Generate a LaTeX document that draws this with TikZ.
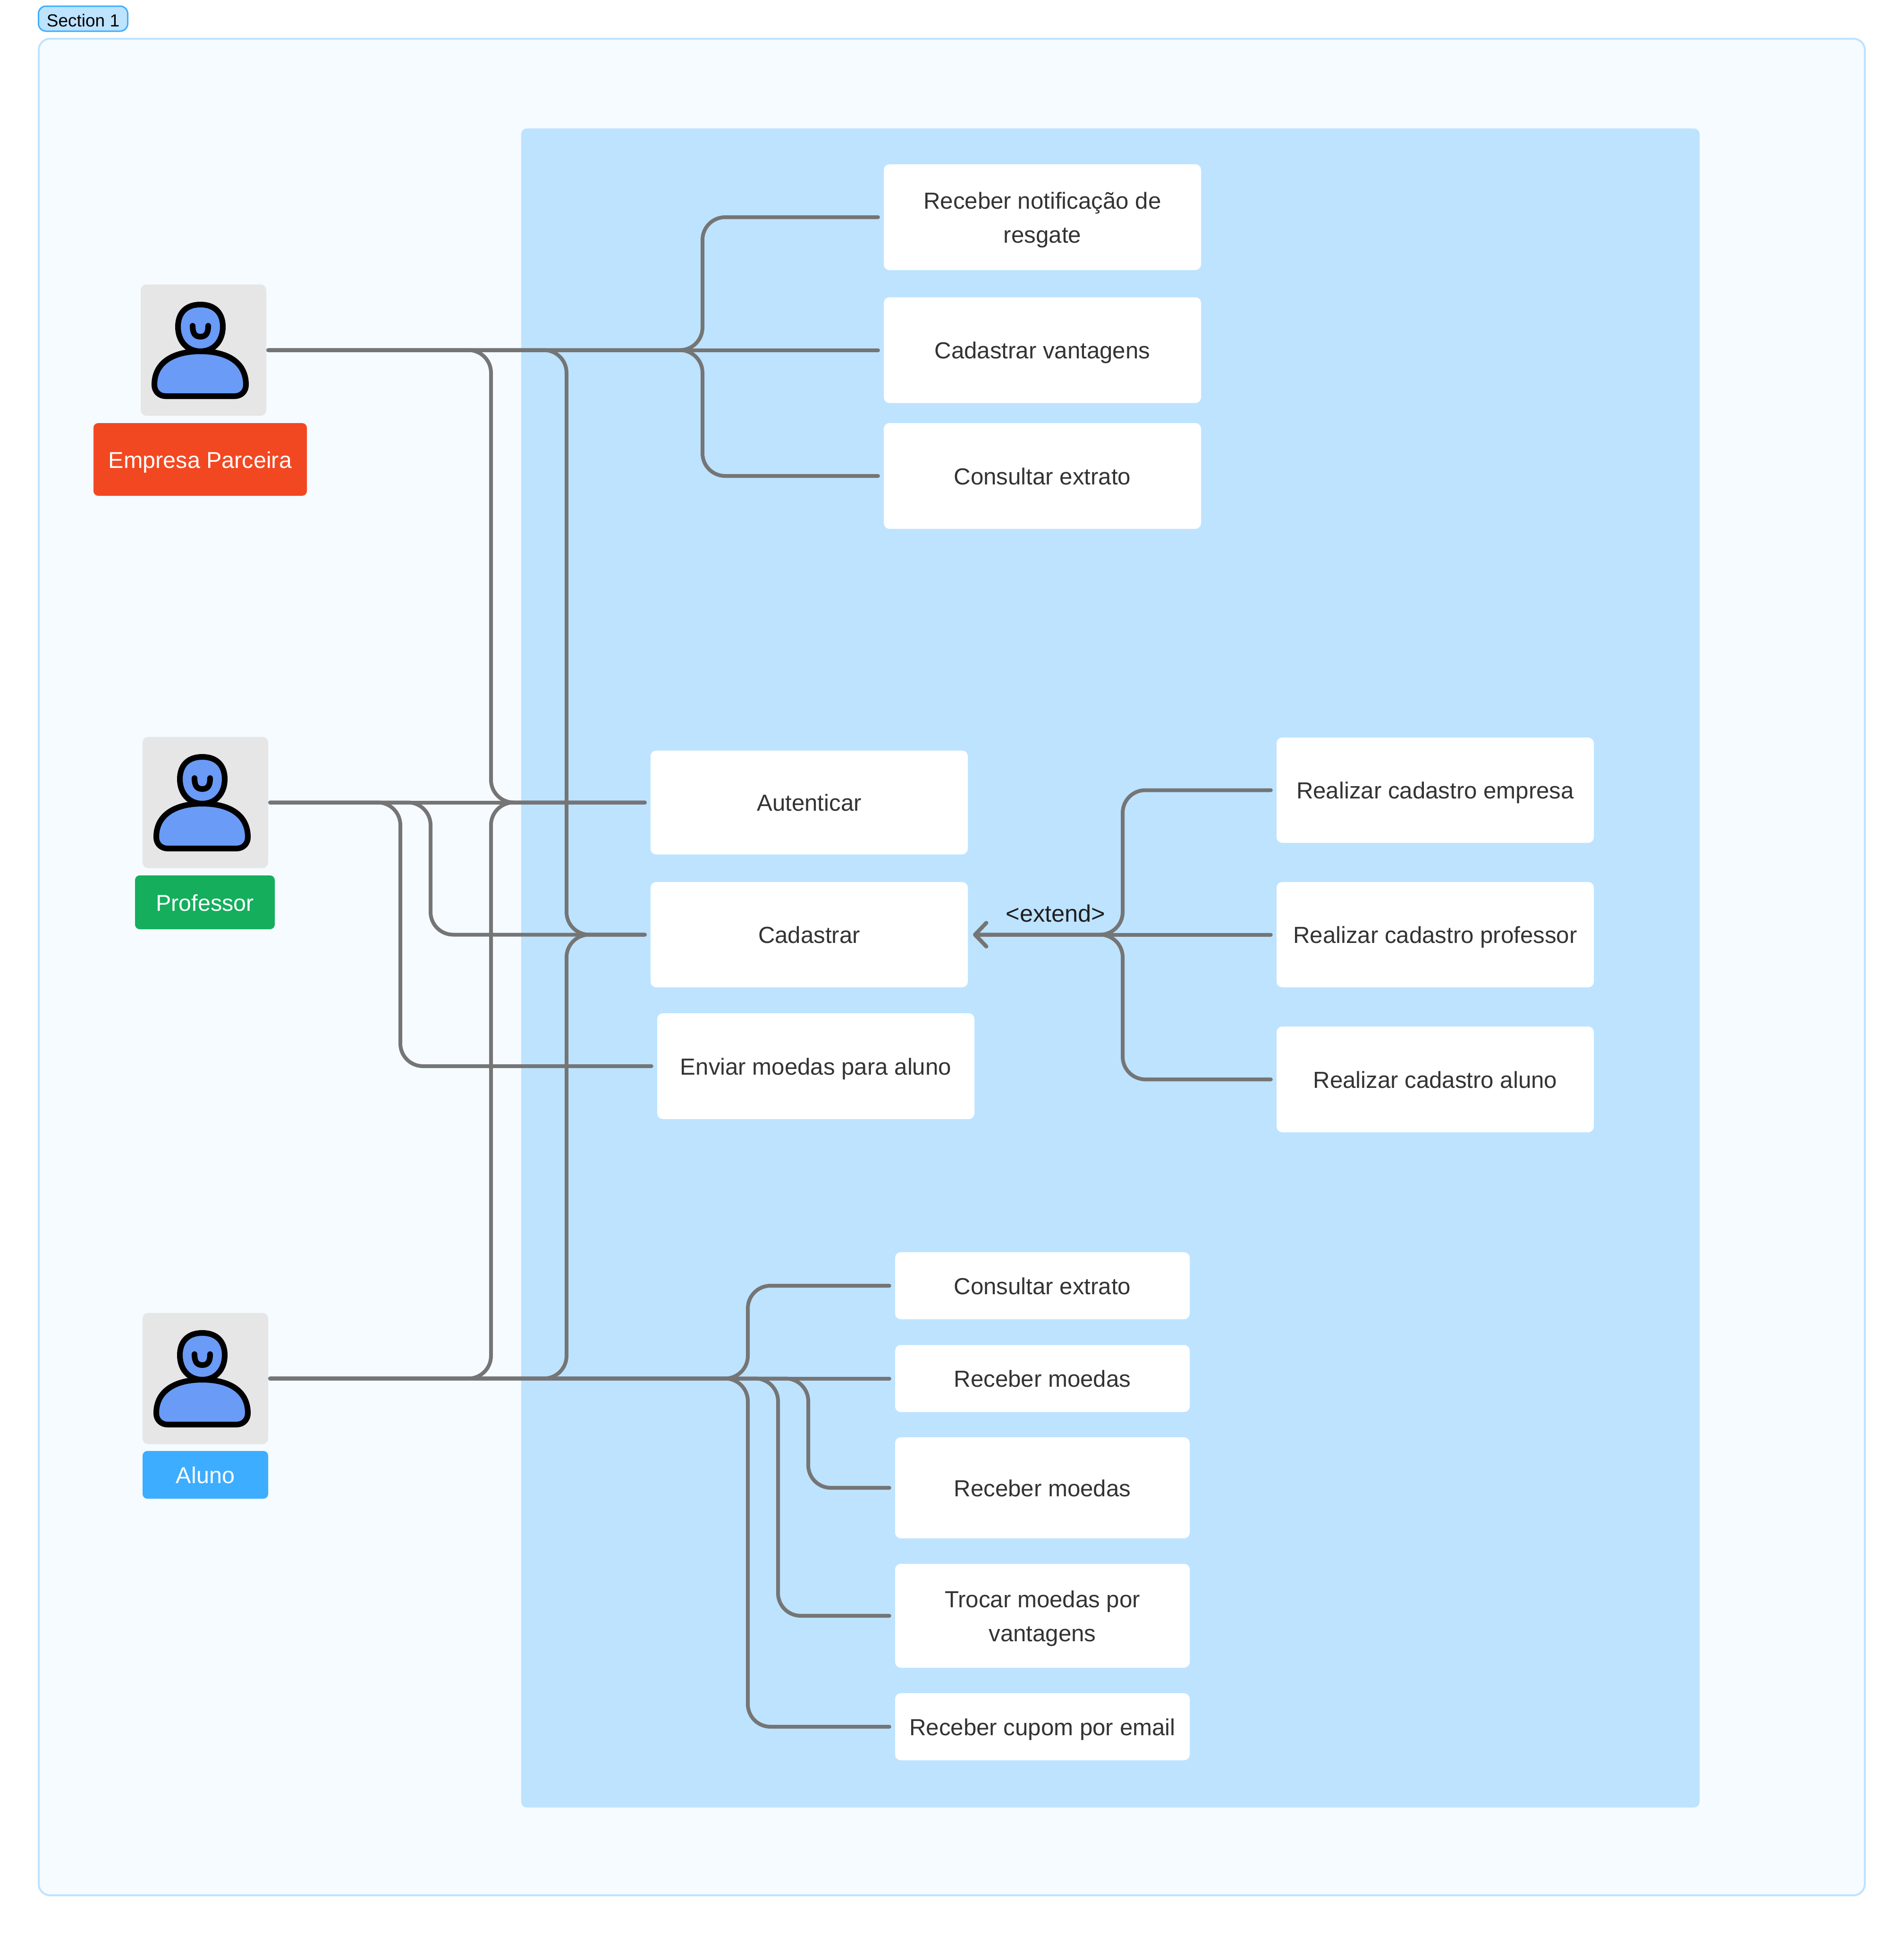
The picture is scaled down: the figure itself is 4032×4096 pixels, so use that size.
\documentclass[tikz,border=0pt]{standalone}
\usepackage{fontspec}
\setmainfont{Liberation Sans}
\usetikzlibrary{arrows.meta}
\definecolor{framefill}{HTML}{F5FBFF}
\definecolor{frameline}{HTML}{BDE3FF}
\definecolor{tagline}{HTML}{3DADFF}
\definecolor{connline}{HTML}{757575}
\definecolor{usetext}{HTML}{333333}
\definecolor{actorbg}{HTML}{E6E6E6}
\definecolor{personblue}{HTML}{699BF7}
\definecolor{empresared}{HTML}{F24822}
\definecolor{profgreen}{HTML}{14AE5C}
\tikzset{
  usecase/.style={rectangle,rounded corners=12pt,fill=white,inner sep=0pt,align=center,text=usetext,
    font=\fontsize{49.2}{72}\selectfont},
  oneline/.style={text height=36pt,text depth=0pt},
  actorbox/.style={rectangle,rounded corners=12pt,fill=actorbg,inner sep=0pt,minimum width=266pt,minimum height=278pt},
  actorlabel/.style={rectangle,rounded corners=10pt,inner sep=0pt,text=white,font=\fontsize{48.5}{72}\selectfont,oneline},
  conn/.style={draw=connline,line width=8pt,line cap=round,line join=round,rounded corners=48pt},
  connarrow/.style={conn,-{Straight Barb[length=24pt,width=50pt,round]}},
  person/.pic={
    \draw[fill=personblue,draw=black,line width=12pt,line join=round]
      (126.5,43) .. controls (158,43) and (174,62) .. (174,90)
      .. controls (174,120) and (155,142) .. (126.5,142)
      .. controls (98,142) and (79,120) .. (79,90)
      .. controls (79,62) and (95,43) .. (126.5,43) -- cycle;
    \draw[fill=personblue,draw=black,line width=12pt,line join=round]
      (126.5,142) .. controls (70,142) and (29,165) .. (29,213)
      .. controls (29,227) and (39,237) .. (53,237)
      -- (199,237)
      .. controls (213,237) and (223,227) .. (223,213)
      .. controls (223,165) and (183,142) .. (126.5,142) -- cycle;
    \draw[draw=black,line width=12pt,line cap=round]
      (110,88) .. controls (110,104) and (115,111) .. (126.5,111)
      .. controls (138,111) and (143,104) .. (143,88);
  }
}
\begin{document}
\begin{tikzpicture}[x=1pt,y=-1pt]
\useasboundingbox (0,0) rectangle (4032,4096);
\fill[white] (0,0) rectangle (4032,4096);
% section frame
\draw[fill=framefill,draw=frameline,line width=4pt,rounded corners=24pt] (82,82) rectangle (3950,4014);
\node[rectangle,rounded corners=16pt,fill=frameline,draw=tagline,line width=3pt,inner sep=0pt,
  minimum width=189pt,minimum height=53pt,font=\fontsize{37}{44}\selectfont,text=black,
  text height=33pt,text depth=0pt] (tag) at (176,39.5) {Section 1};
% system boundary
\fill[frameline,rounded corners=12pt] (1104,272) rectangle (3600,3828);
% actors
\node[actorbox] (emp) at (431,741.5) {};
\node[actorbox] (prof) at (435,1699.5) {};
\node[actorbox] (alu) at (435,2919.5) {};
\pic at (298,602) {person};
\pic at (302,1560) {person};
\pic at (302,2780) {person};
\node[actorlabel,fill=empresared,minimum width=452pt,minimum height=154pt] (emplabel) at (424,973) {Empresa Parceira};
\node[actorlabel,fill=profgreen,minimum width=296pt,minimum height=114pt] (proflabel) at (434,1911) {Professor};
\node[actorlabel,fill=tagline,minimum width=266pt,minimum height=101pt] (alulabel) at (435,3123.5) {Aluno};
% use cases: partner
\node[usecase,minimum width=672pt,minimum height=224pt] (notif) at (2208,460) {\rule{0pt}{48pt}Receber notificação de\\resgate};
\node[usecase,oneline,minimum width=672pt,minimum height=224pt] (vant) at (2208,741.5) {Cadastrar vantagens};
\node[usecase,oneline,minimum width=672pt,minimum height=224pt] (extr) at (2208,1008) {Consultar extrato};
% use cases: shared
\node[usecase,oneline,minimum width=672pt,minimum height=220pt] (aut) at (1714,1699.5) {Autenticar};
\node[usecase,oneline,minimum width=672pt,minimum height=223pt] (cad) at (1714,1979.5) {Cadastrar};
\node[usecase,oneline,minimum width=672pt,minimum height=224pt] (env) at (1728,2258) {Enviar moedas para aluno};
% use cases: registration
\node[usecase,oneline,minimum width=672pt,minimum height=223pt] (remp) at (3040,1673.5) {Realizar cadastro empresa};
\node[usecase,oneline,minimum width=672pt,minimum height=223pt] (rprof) at (3040,1979.5) {Realizar cadastro professor};
\node[usecase,oneline,minimum width=672pt,minimum height=224pt] (ralu) at (3040,2286) {Realizar cadastro aluno};
% use cases: student
\node[usecase,oneline,minimum width=624pt,minimum height=142pt] (cons) at (2208,2723) {Consultar extrato};
\node[usecase,oneline,minimum width=624pt,minimum height=142pt] (rec) at (2208,2919.5) {Receber moedas};
\node[usecase,oneline,minimum width=624pt,minimum height=214pt] (rec2) at (2208,3151) {Receber moedas};
\node[usecase,minimum width=624pt,minimum height=220pt] (troc) at (2208,3422) {\rule{0pt}{48pt}Trocar moedas por\\vantagens};
\node[usecase,oneline,minimum width=624pt,minimum height=142pt] (cup) at (2208,3657) {Receber cupom por email};
% connectors: partner
\draw[conn] ([xshift=4pt]emp.east) -- (1488,741.5) |- ([xshift=-12pt]notif.west);
\draw[conn] ([xshift=4pt]emp.east) -- ([xshift=-12pt]vant.west);
\draw[conn] ([xshift=4pt]emp.east) -- (1488,741.5) |- ([xshift=-12pt]extr.west);
\draw[conn] ([xshift=4pt]emp.east) -- (1040,741.5) |- ([xshift=-12pt]aut.west);
\draw[conn] ([xshift=4pt]emp.east) -- (1200,741.5) |- ([xshift=-12pt]cad.west);
% connectors: teacher
\draw[conn] ([xshift=4pt]prof.east) -- ([xshift=-12pt]aut.west);
\draw[conn] ([xshift=4pt]prof.east) -- (912,1699.5) |- ([xshift=-12pt]cad.west);
\draw[conn] ([xshift=4pt]prof.east) -- (848,1699.5) |- ([xshift=-12pt]env.west);
% connectors: student
\draw[conn] ([xshift=4pt]alu.east) -- (1040,2919.5) |- ([xshift=-12pt]aut.west);
\draw[conn] ([xshift=4pt]alu.east) -- (1200,2919.5) |- ([xshift=-12pt]cad.west);
\draw[conn] ([xshift=4pt]alu.east) -- (1584,2919.5) |- ([xshift=-12pt]cons.west);
\draw[conn] ([xshift=4pt]alu.east) -- ([xshift=-12pt]rec.west);
\draw[conn] ([xshift=4pt]alu.east) -- (1712,2919.5) |- ([xshift=-12pt]rec2.west);
\draw[conn] ([xshift=4pt]alu.east) -- (1648,2919.5) |- ([xshift=-12pt]troc.west);
\draw[conn] ([xshift=4pt]alu.east) -- (1584,2919.5) |- ([xshift=-12pt]cup.west);
% connectors: extend
\draw[connarrow] ([xshift=-12pt]remp.west) -- (2378,1673.5) |- ([xshift=11pt]cad.east);
\draw[connarrow] ([xshift=-12pt]rprof.west) -- ([xshift=11pt]cad.east);
\draw[connarrow] ([xshift=-12pt]ralu.west) -- (2378,2286) |- ([xshift=11pt]cad.east);
\node[inner sep=0pt,text=black!88,font=\fontsize{50.5}{60}\selectfont] (ext) at (2236,1934) {<extend>};
\end{tikzpicture}
\end{document}
